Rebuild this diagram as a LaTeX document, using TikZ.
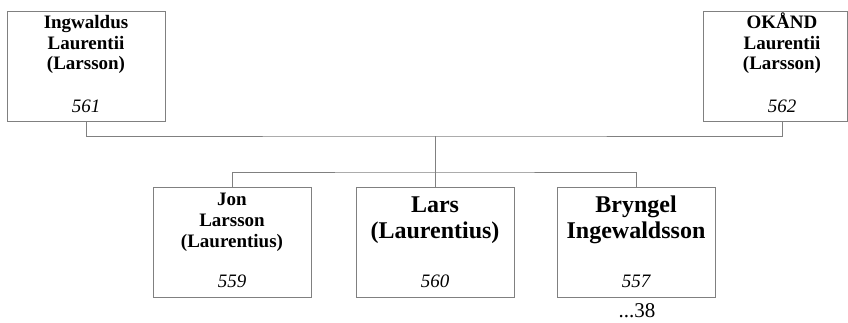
\documentclass[tikz,border=0pt]{standalone}
\usepackage{fontspec}
\setmainfont{Liberation Serif}
\definecolor{boxgray}{HTML}{808080}
\begin{document}
\begin{tikzpicture}[x=1pt,y=-1pt,
  pbox/.style={draw=boxgray, line width=1pt, rectangle, inner sep=0pt, minimum width=#1, minimum height=110pt},
  link/.style={draw=boxgray, line width=1pt},
  sname/.style={font=\bfseries\fontsize{19}{19}\selectfont, anchor=base, inner sep=0pt},
  bname/.style={font=\bfseries\fontsize{24}{24}\selectfont, anchor=base, inner sep=0pt},
  numtxt/.style={font=\itshape\fontsize{19}{19}\selectfont, anchor=base, inner sep=0pt},
  reftxt/.style={font=\fontsize{21}{21}\selectfont, anchor=base, inner sep=0pt}]
\useasboundingbox (0,0) rectangle (848,322);
% boxes
\node[pbox=158pt] (b561) at (86,66.5) {};
\node[pbox=144pt] (b562) at (775,66.5) {};
\node[pbox=158pt] (b559) at (232,242) {};
\node[pbox=158pt] (b560) at (435,242) {};
\node[pbox=158pt] (b557) at (636,242) {};
% texts box 561
\node[sname] (t561a) at (86,28) {Ingwaldus};
\node[sname] (t561b) at (86,49) {Laurentii};
\node[sname] (t561c) at (86,69) {(Larsson)};
\node[numtxt] (n561) at (86,112) {561};
% texts box 562
\node[sname] (t562a) at (782,28) {OKÅND};
\node[sname] (t562b) at (782,49) {Laurentii};
\node[sname] (t562c) at (782,69) {(Larsson)};
\node[numtxt] (n562) at (782,112) {562};
% texts box 559
\node[sname] (t559a) at (232,205) {Jon};
\node[sname] (t559b) at (232,226) {Larsson};
\node[sname] (t559c) at (232,247) {(Laurentius)};
\node[numtxt] (n559) at (232,287) {559};
% texts box 560
\node[bname] (t560a) at (435,212) {Lars};
\node[bname] (t560b) at (435,238) {(Laurentius)};
\node[numtxt] (n560) at (435,287) {560};
% texts box 557
\node[bname] (t557a) at (636,212) {Bryngel};
\node[bname] (t557b) at (636,238) {Ingewaldsson};
\node[numtxt] (n557) at (636,287) {557};
\node[reftxt] (r38) at (637,317) {...38};
% connectors
\coordinate (c562) at (782,121);
\coordinate (pj) at (435,136);
\coordinate (cj) at (435,172);
\draw[link] (b561.south) |- (pj) -| (c562);
\draw[link] (pj) -- (b560.north);
\draw[link] (b559.north) |- (cj) -| (b557.north);
\end{tikzpicture}
\end{document}
